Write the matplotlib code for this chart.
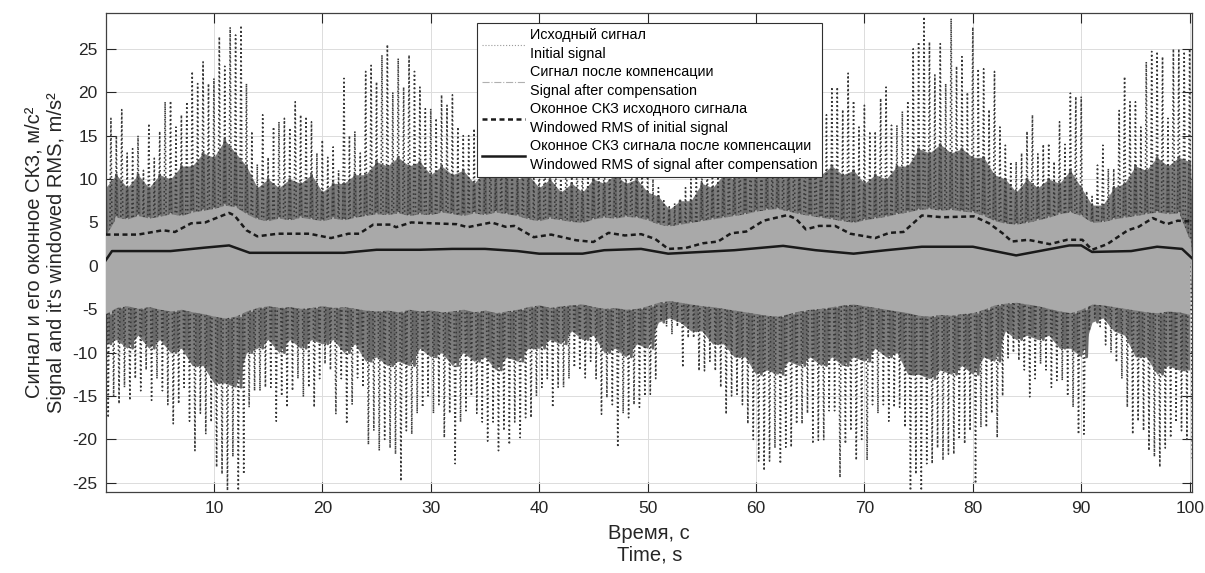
import numpy as np
import matplotlib
matplotlib.use('Agg')
import matplotlib.pyplot as plt
from matplotlib.lines import Line2D

# ---------------- data ----------------
# Initial signal: local upper / lower peaks, two per second (t = 0, 0.5, ... 100)
init_hi = [
    15, 17, 15, 18, 13, 13.5, 15, 11, 16.4, 12.4,
    15.5, 18.9, 19, 16, 17.4, 18.9, 22.4, 21, 23.5, 21,
    21.6, 26.4, 23, 27.5, 26.6, 27.7, 21, 15.5, 11.7, 17.4,
    12.5, 16, 16.6, 17, 15.9, 18.9, 17.4, 17.2, 16.6, 13,
    14.5, 12.5, 13.7, 11, 21.6, 15, 15.5, 13, 22.4, 23.1,
    21.2, 24.3, 25.5, 20, 23.9, 20.6, 24.3, 22.4, 20.6, 18.1,
    18.1, 17, 19.7, 18.5, 19.7, 16, 15, 15, 15.8, 14,
    16, 18, 14, 17, 19, 15, 13, 16, 15, 12,
    14, 17, 13, 15, 12, 16, 11, 14, 13, 12,
    15, 13, 16, 14, 18, 15, 14, 17, 15, 13,
    12, 10, 9, 7.5, 6.8, 7.2, 7.5, 9, 10, 11,
    12, 13, 14, 12, 15, 17, 16, 18, 17, 19,
    18, 20, 19, 17, 20, 18, 17, 19, 16, 18,
    19, 21, 21.2, 17.4, 20.6, 20.6, 18, 22.2, 19, 16,
    18.5, 15.5, 15.5, 19.3, 20.6, 16.2, 16.2, 17.8, 19, 25,
    25.8, 28.7, 25.8, 22, 25.6, 21, 28.5, 23, 24.1, 20,
    27.5, 22.7, 22.7, 18, 22.4, 16, 13.9, 12, 12, 13,
    15.5, 17.4, 12.9, 14, 14.1, 12, 16.6, 14, 19.9, 19.5,
    19.5, 8.6, 8, 11.6, 13.9, 11.2, 11.2, 17.9, 21.8, 18.9,
    18.9, 16, 23.5, 24.7, 24.7, 24.1, 17, 25, 25, 24.7,
    25,
]
init_lo = [
    -17.5, -15, -15.9, -14, -15.5, -13, -14.4, -12, -15.5, -13,
    -14.4, -16, -18.2, -15.9, -14, -17.9, -21.3, -17, -19.4, -18,
    -23.2, -24, -25.9, -22, -25.9, -24, -16.3, -14.4, -14.4, -14,
    -14, -17.9, -15, -16.3, -14.4, -13, -15.1, -14, -16.3, -13,
    -11.3, -12, -17.1, -13, -18.2, -16, -12.9, -14, -20.6, -19,
    -21.3, -20, -21, -21.7, -24.8, -19, -19.4, -17, -16.3, -15,
    -17, -16, -19.8, -17, -22.8, -18, -16.7, -15, -17, -18,
    -20.2, -18, -21.3, -19, -20.6, -18, -19.8, -17.5, -17.5, -15,
    -14, -13, -16.3, -14, -14, -13, -11.7, -12, -12.9, -11,
    -13, -17.1, -15.2, -16, -20.9, -17, -17.5, -16, -16.3, -15,
    -14.8, -13, -6.4, -7, -7.9, -7, -11.7, -8.3, -8.3, -12.1,
    -12.1, -11, -12.1, -14, -17.1, -15, -14.8, -16, -18.2, -20,
    -22.5, -23.6, -22.5, -21, -22.8, -20.9, -20.9, -18.2, -18.2, -17,
    -20.5, -20.1, -20.1, -16.7, -16.7, -24.4, -20.5, -19, -22.4, -20,
    -22.4, -16, -17, -16, -17.9, -16.3, -16.3, -18.6, -25.9, -24,
    -25.9, -22.8, -22.8, -21, -22.4, -21.7, -21.7, -20, -20.5, -19,
    -25.1, -18.6, -18.6, -17, -19.8, -15, -10.6, -10, -10.9, -12,
    -15.1, -13, -11.3, -12, -14, -13.2, -13.2, -15, -16.3, -19.4,
    -19.4, -7.5, -6, -7, -9.1, -10, -11.1, -13, -16.3, -19.4,
    -17.9, -19, -21.3, -22, -23.2, -21, -19.8, -18, -19, -20,
    -22.4,
]
# Initial signal: limits of its dense dark body, one per second (t = 0 ... 100)
core_hi = [
    9, 10.5, 9, 10.5, 9, 10.5, 10, 11.5, 11.5, 13,
    12.5, 14.5, 13, 11.5, 9, 10, 9, 10, 9.5, 10.5,
    8.5, 9.5, 9.5, 10.5, 10.5, 12, 11.5, 12.5, 11.5, 12,
    10.5, 11.5, 10.5, 11, 9.5, 11, 10.5, 11.5, 10, 10.5,
    9, 10, 8.5, 9.5, 8.5, 10, 9.5, 10.5, 9.5, 10,
    8.5, 8, 6.5, 7.5, 7.5, 9.5, 9, 10.5, 10, 11.5,
    11, 12.5, 11.5, 12, 10.5, 11.5, 10.5, 11.5, 10.5, 11,
    9.5, 10.5, 10, 11.5, 11.5, 13.5, 13, 14, 13, 13.5,
    12.5, 12.5, 10.5, 10, 8.5, 10, 9, 10, 9.5, 11,
    9, 7, 7, 9, 9.5, 11.5, 11, 12.5, 11.5, 12.5,
    12,
]
core_lo = [
    -9, -8.5, -9.5, -8, -9.5, -8.5, -10, -9.5, -11.5, -11.5,
    -13.5, -13.5, -14, -10, -9.5, -8.5, -10, -8.5, -9.5, -8.5,
    -9, -8.5, -10, -9, -11, -10.5, -11.5, -11, -11.5, -9.5,
    -10.5, -10, -11.5, -10, -11, -10.5, -12, -10.5, -11, -9.5,
    -9.5, -8.5, -9, -7.5, -8.5, -8, -10, -9.5, -10.5, -9,
    -9.5, -6.5, -6, -6.5, -7.5, -7.5, -9, -9, -10.5, -10.5,
    -12.5, -12, -12.5, -11, -11.5, -10.5, -11.5, -10.5, -11.5, -10.5,
    -11, -9.5, -10.5, -10, -12.5, -12.5, -13, -12, -12.5, -11.5,
    -12.5, -10.5, -11, -7.5, -8.5, -8, -8.5, -8, -9.5, -9.5,
    -10.5, -6.5, -6, -7.5, -8, -10.5, -10.5, -12.5, -11.5, -12,
    -12,
]

# Signal after compensation: upper / lower peaks, one per second (t = 0 ... 100)
comp_hi = [
    3.5, 5.6, 5.4, 5.8, 5.5, 5.7, 6.0, 5.8, 6.2, 6.4,
    6.6, 7.0, 6.8, 6.0, 5.4, 5.2, 5.5, 5.3, 5.6, 5.4,
    5.2, 5.5, 5.3, 5.6, 5.8, 6.0, 5.9, 6.1, 5.8, 6.0,
    5.9, 6.2, 6.0, 5.8, 6.1, 5.9, 6.2, 6.0, 5.8, 5.4,
    5.2, 5.5, 5.3, 5.1, 5.0, 5.4, 5.6, 5.5, 5.7, 5.6,
    5.3, 4.8, 4.6, 4.8, 5.0, 5.2, 5.4, 5.6, 5.8, 6.0,
    6.3, 6.5, 6.6, 6.3, 6.0, 5.8, 5.6, 5.4, 5.2, 5.0,
    5.3, 5.5, 5.7, 6.0, 6.2, 6.5, 6.6, 6.4, 6.5, 6.3,
    6.2, 5.8, 5.2, 4.9, 4.8, 5.0, 5.3, 5.6, 6.0, 6.2,
    5.8, 5.0, 5.1, 5.4, 5.6, 5.8, 6.0, 6.2, 6.0, 6.1,
    3.0,
]
comp_lo = [
    -5.5, -4.8, -4.6, -4.9, -4.7, -5.0, -5.2, -5.0, -5.3, -5.5,
    -5.8, -6.0, -5.8, -5.2, -4.8, -4.6, -4.8, -4.7, -4.9, -4.8,
    -4.6, -4.8, -4.7, -4.9, -5.1, -5.2, -5.1, -5.3, -5.0, -5.2,
    -5.1, -5.3, -5.2, -5.0, -5.3, -5.1, -5.4, -5.2, -5.0, -4.7,
    -4.5, -4.8, -4.6, -4.5, -4.4, -4.7, -4.9, -4.8, -5.0, -4.9,
    -4.6, -4.2, -4.0, -4.2, -4.4, -4.6, -4.7, -4.9, -5.1, -5.3,
    -5.5, -5.7, -5.8, -5.5, -5.2, -5.0, -4.9, -4.7, -4.5, -4.4,
    -4.6, -4.8, -5.0, -5.2, -5.4, -5.7, -5.8, -5.6, -5.7, -5.5,
    -5.4, -5.0, -4.5, -4.3, -4.2, -4.4, -4.6, -4.9, -5.2, -5.4,
    -5.0, -4.4, -4.5, -4.7, -4.9, -5.1, -5.3, -5.4, -5.2, -5.3,
    -5.6,
]

# Windowed RMS of initial signal
rms_init_t = [0, 3.0, 5.3, 6.4, 7.9, 9.2, 11.4, 11.9, 13.0, 14.0, 15.9, 18.8, 20.8,
              22.4, 23.4, 24.7, 26.3, 26.8, 28.2, 30.1, 32.4, 33.4, 35.6, 36.9, 37.7,
              39.5, 41.1, 43.4, 45.0, 46.4, 47.9, 49.4, 50.7, 51.9, 53.5, 55.1, 56.5,
              57.7, 59.1, 60.7, 62.9, 63.7, 64.6, 65.8, 67.3, 68.7, 71.0, 72.3, 73.6,
              75.3, 77.2, 80.1, 81.5, 82.8, 83.6, 85.1, 87.1, 88.7, 90.1, 91.0, 92.4,
              94.3, 95.3, 96.6, 97.9, 98.9, 100.2]
rms_init_v = [3.6, 3.6, 4.1, 3.9, 4.9, 5.0, 6.1, 5.8, 4.1, 3.4, 3.7, 3.7, 3.2,
              3.7, 3.7, 4.75, 4.75, 4.45, 5.0, 4.9, 4.8, 4.45, 5.0, 4.5, 4.6,
              3.3, 3.6, 2.95, 2.75, 3.8, 3.5, 3.65, 3.1, 1.95, 2.05, 2.6, 2.8,
              3.75, 3.95, 5.2, 5.85, 5.4, 4.2, 4.6, 4.6, 3.7, 3.2, 3.8, 3.9,
              5.8, 5.6, 5.7, 4.9, 3.7, 2.8, 3.0, 2.5, 3.0, 3.0, 1.85, 2.5,
              4.1, 4.5, 5.5, 4.8, 5.2, 5.1]

# Windowed RMS of signal after compensation
rms_comp_t = [0, 0.6, 6.0, 9.2, 11.4, 13.3, 22.0, 25.0, 29.0, 32.0, 35.0, 38.0, 40.0,
              44.0, 46.0, 49.4, 51.9, 55.0, 58.0, 62.5, 65.5, 69.0, 72.0, 75.3, 80.0,
              84.0, 88.9, 90.0, 91.0, 94.6, 97.0, 99.3, 100.2]
rms_comp_v = [0.6, 1.7, 1.7, 2.1, 2.35, 1.5, 1.5, 1.85, 1.85, 1.95, 1.95, 1.7, 1.4,
              1.4, 1.8, 1.95, 1.4, 1.6, 1.8, 2.3, 1.8, 1.4, 1.8, 2.2, 2.2,
              1.2, 2.35, 2.35, 1.6, 1.7, 2.2, 1.95, 0.9]

labels = [
    'Исходный сигнал\nInitial signal',
    'Сигнал после компенсации\nSignal after compensation',
    'Оконное СКЗ исходного сигнала\nWindowed RMS of initial signal',
    'Оконное СКЗ сигнала после компенсации\nWindowed RMS of signal after compensation',
]
x_ticks = list(range(10, 101, 10))
y_ticks = list(range(-25, 26, 5))
xlabel = 'Время, с\nTime, s'
ylabel = 'Сигнал и его оконное СКЗ, м/с²\nSignal and it\'s windowed RMS, m/s²'

# ---------------- build series ----------------
t_half = np.arange(len(init_hi)) * 0.5
sig_t = np.empty(2 * len(init_hi))
sig_v = np.empty(2 * len(init_hi))
sig_t[0::2] = t_half
sig_t[1::2] = t_half + 0.25
sig_v[0::2] = init_hi
sig_v[1::2] = init_lo

t_sec = np.arange(len(comp_hi)) * 1.0
comp_t = np.empty(2 * len(comp_hi))
comp_v = np.empty(2 * len(comp_hi))
comp_t[0::2] = t_sec
comp_t[1::2] = t_sec + 0.5
comp_v[0::2] = comp_hi
comp_v[1::2] = comp_lo

core_t = np.empty(2 * len(core_hi))
core_v = np.empty(2 * len(core_hi))
core_t[0::2] = t_sec
core_t[1::2] = t_sec + 0.5
core_v[0::2] = core_hi
core_v[1::2] = core_lo

# ---------------- plot ----------------
plt.rcParams['font.family'] = ['Liberation Sans', 'DejaVu Sans']
plt.rcParams['axes.unicode_minus'] = False

fig = plt.figure(figsize=(12.05, 5.73), dpi=100)
ax = fig.add_axes([0.088, 0.1408, 0.9015, 0.836])

# initial signal: dense body + dotted spikes
ax.fill_between(t_sec, core_lo, core_hi, color='#7c7c7c', lw=0, zorder=1.5)
ax.plot(core_t, core_v, color='#6a6a6a', lw=2.0, zorder=1.6)
ax.plot(sig_t, sig_v, color='#383838', lw=1.15, ls=':', zorder=2)
# signal after compensation
ax.fill_between(t_sec, comp_lo, comp_hi, color='#a9a9a9', lw=0, zorder=3)
ax.plot(comp_t, comp_v, color='#a9a9a9', lw=1.6, zorder=3)
# windowed RMS
dash = (0, (2.0, 1.4))
ax.plot(rms_init_t, rms_init_v, color='#1a1a1a', lw=1.8, ls=dash, zorder=4)
ax.plot(rms_comp_t, rms_comp_v, color='#1a1a1a', lw=1.8, zorder=4)

ax.set_xlim(0.05, 100.25)
ax.set_ylim(-26.1, 29.1)
ax.set_xticks(x_ticks)
ax.set_yticks(y_ticks)
ax.tick_params(direction='in', top=True, right=True, length=7, width=0.8,
               labelsize=12.5, colors='#262626', pad=6)
ax.grid(True, color='#dcdcdc', lw=0.7)
ax.set_axisbelow(True)
for sp in ax.spines.values():
    sp.set_color('#404040')
    sp.set_linewidth(0.9)

ax.set_xlabel(xlabel, fontsize=14.5, color='#262626', labelpad=6)
ax.set_ylabel(ylabel, fontsize=14.5, color='#262626', labelpad=5)

handles = [
    Line2D([], [], color='#9a9a9a', lw=0.8, ls=':'),
    Line2D([], [], color='#b0b0b0', lw=0.8, ls='-.'),
    Line2D([], [], color='#1a1a1a', lw=1.8, ls=dash),
    Line2D([], [], color='#1a1a1a', lw=1.8),
]
leg = ax.legend(handles, labels, loc='upper center', bbox_to_anchor=(0.5005, 0.979),
                fontsize=10.35, frameon=True, fancybox=False, edgecolor='#303030',
                framealpha=1, handlelength=3.0, handletextpad=0.3, labelspacing=0.28,
                borderpad=0.35, borderaxespad=0)
for txt in leg.get_texts():
    txt.set_linespacing(1.45)
leg.get_frame().set_linewidth(0.8)
leg.set_zorder(10)

fig.savefig('out.png', dpi=100)
